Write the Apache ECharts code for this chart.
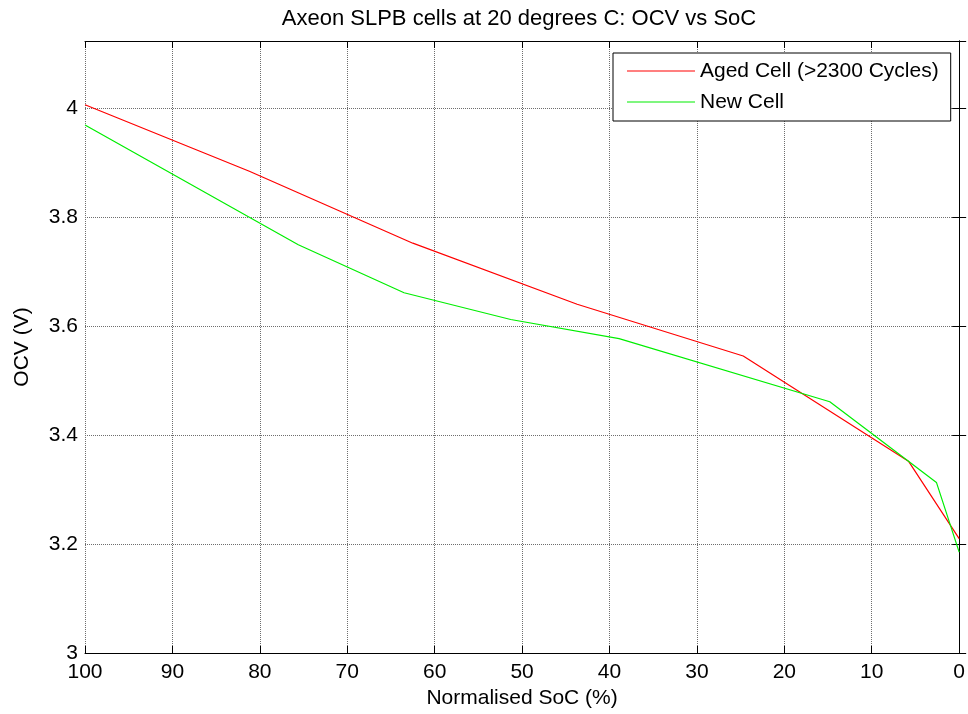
<!DOCTYPE html>
<html>
<head>
<meta charset="utf-8">
<script src="https://cdn.jsdelivr.net/npm/echarts@6/dist/echarts.min.js"></script>
<style>
html,body{margin:0;padding:0;background:#fff;}
#chart{width:968px;height:714px;}
</style>
</head>
<body>
<div id="chart"></div>
<script>
var titleText = 'Axeon SLPB cells at 20 degrees C: OCV vs SoC';
var xName = 'Normalised SoC (%)';
var yName = 'OCV (V)';
var seriesNames = ['Aged Cell (>2300 Cycles)', 'New Cell'];

var socAged = [100, 81.2, 62.5, 43.7, 24.7, 5.8, 0];
var ocvAged = [4.006, 3.884, 3.752, 3.640, 3.545, 3.352, 3.210];

var socNew = [100, 75.6, 63.5, 51.3, 38.9, 14.8, 5.8, 2.6, 0];
var ocvNew = [3.969, 3.749, 3.661, 3.612, 3.577, 3.461, 3.352, 3.313, 3.185];

var xMin = 0, xMax = 100, xStep = 10;
var yMin = 3, yMax = 4.123, yStep = 0.2;

function pairs(xs, ys) { return xs.map(function (x, i) { return [x, ys[i]]; }); }

var FONT = 'Liberation Sans, Arial, sans-serif';
var chart = echarts.init(document.getElementById('chart'), null, {renderer: 'canvas'});

function yFmt(v) {
  var k = (v - yMin) / yStep;
  if (Math.abs(k - Math.round(k)) > 1e-6) return '';
  return String(Math.round(v * 10) / 10);
}

var baseAxisLine = {show: true, lineStyle: {color: '#000', width: 1}};
var tickIn = {show: true, inside: true, length: 7, lineStyle: {color: '#000', width: 1}};

chart.setOption({
  backgroundColor: '#fff',
  animation: false,
  title: {
    text: titleText,
    left: 514,
    textAlign: 'center',
    top: 3,
    textStyle: {fontFamily: FONT, fontSize: 22, fontWeight: 'normal', color: '#000'}
  },
  grid: {left: 85, right: 7, top: 41, bottom: 60, containLabel: false},
  legend: {
    orient: 'vertical',
    left: 613,
    top: 53,
    padding: [6, 12, 7, 14],
    itemGap: 7,
    itemWidth: 68,
    itemHeight: 24,
    icon: 'path://M0,0 L68,0 L68,1.2 L0,1.2 Z',
    borderColor: '#000',
    borderWidth: 1,
    backgroundColor: '#fff',
    textStyle: {fontFamily: FONT, fontSize: 21, color: '#000', lineHeight: 24},
    data: seriesNames
  },
  xAxis: [{
    type: 'value', inverse: true, min: xMin, max: xMax, interval: xStep,
    position: 'bottom',
    name: xName, nameLocation: 'middle', nameGap: 35,
    nameTextStyle: {fontFamily: FONT, fontSize: 21, color: '#000'},
    axisLine: baseAxisLine, axisTick: tickIn,
    axisLabel: {fontFamily: FONT, fontSize: 21, color: '#000', margin: 9},
    splitLine: {show: true, lineStyle: {color: '#6e6e6e', type: [1, 1], width: 1}}
  }, {
    type: 'value', inverse: true, min: xMin, max: xMax, interval: xStep,
    position: 'top',
    axisLine: baseAxisLine, axisTick: tickIn,
    axisLabel: {show: false}, splitLine: {show: false}
  }],
  yAxis: [{
    type: 'value', min: yMin, max: yMax, interval: yStep,
    position: 'left',
    name: yName, nameLocation: 'middle', nameGap: 52,
    nameTextStyle: {fontFamily: FONT, fontSize: 21, color: '#000'},
    axisLine: baseAxisLine, axisTick: tickIn,
    axisLabel: {fontFamily: FONT, fontSize: 21, color: '#000', margin: 7, formatter: yFmt},
    splitLine: {show: true, lineStyle: {color: '#6e6e6e', type: [1, 1], width: 1}}
  }, {
    type: 'value', min: yMin, max: yMax, interval: yStep,
    position: 'right',
    axisLine: baseAxisLine, axisTick: tickIn,
    axisLabel: {show: false}, splitLine: {show: false}
  }],
  series: [{
    name: seriesNames[0], type: 'line', data: pairs(socAged, ocvAged),
    symbol: 'none', color: '#ff0000',
    lineStyle: {color: '#ff0000', width: 1.2}, z: 3
  }, {
    name: seriesNames[1], type: 'line', data: pairs(socNew, ocvNew),
    symbol: 'none', color: '#00ee00',
    lineStyle: {color: '#00ee00', width: 1.2}, z: 4
  }]
});
</script>
</body>
</html>
